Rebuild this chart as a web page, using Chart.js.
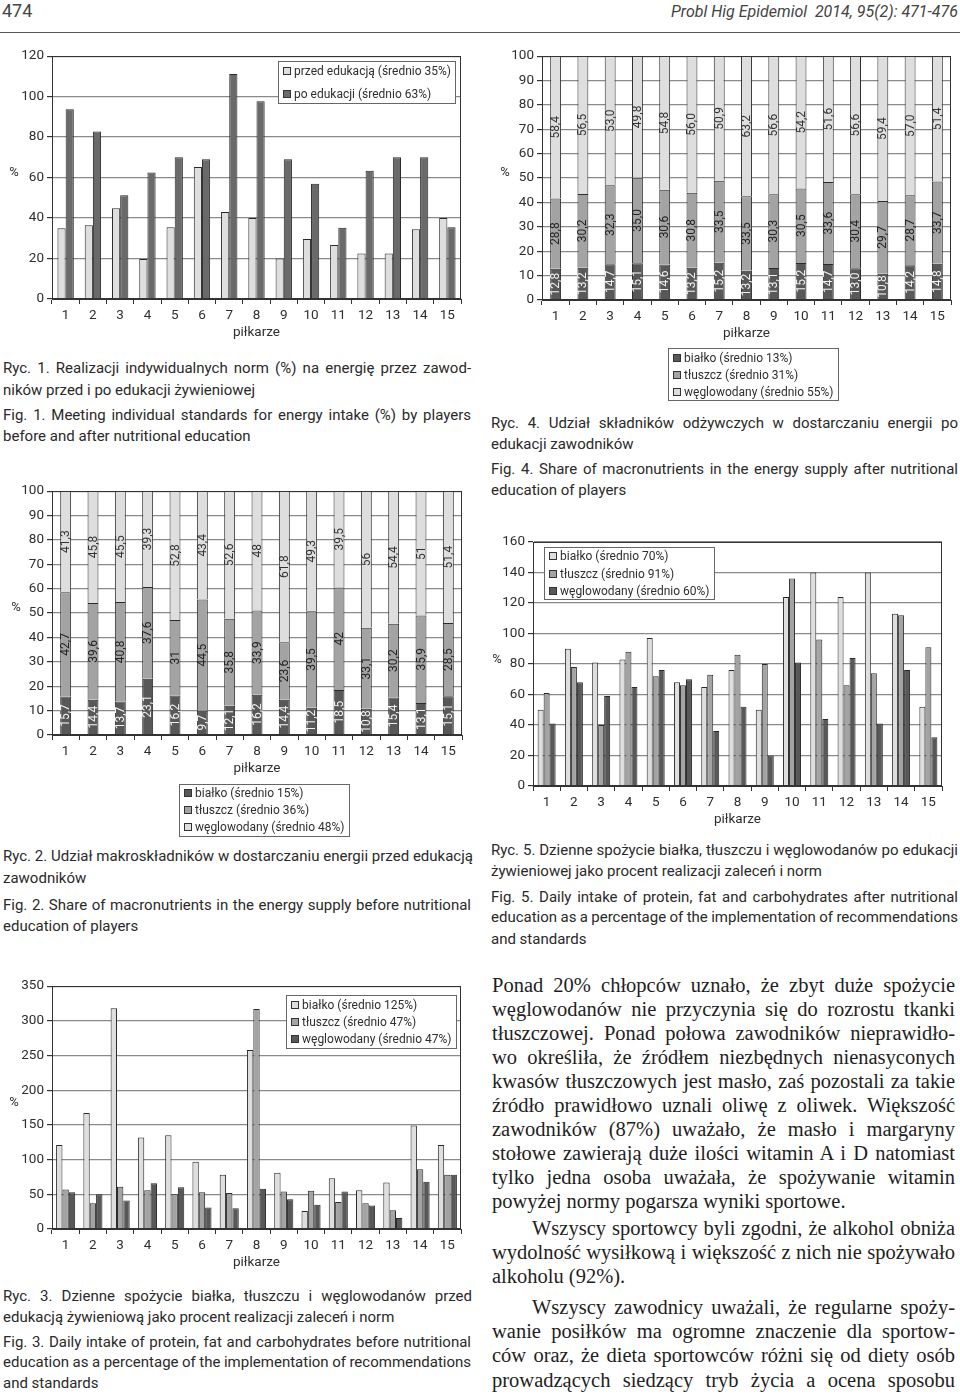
<!DOCTYPE html>
<html><head><meta charset="utf-8">
<script src="https://cdn.jsdelivr.net/npm/chart.js@4.4.1/dist/chart.umd.min.js"></script>
<style>
html,body{margin:0;padding:0;background:#fff;}
body{width:960px;height:1396px;position:relative;overflow:hidden;color:#333;font-family:Roboto,sans-serif;}
.ln{position:absolute;white-space:nowrap;}
.cap{font-family:Roboto,sans-serif;font-size:15px;line-height:20px;color:#2a2a2a;}
.bt{font-family:'Liberation Serif',serif;font-size:20.5px;line-height:24px;color:#1e1e1e;}
canvas{position:absolute;}
</style></head>
<body>
<div class="ln" style="left:2px;top:0px;font-size:18px;line-height:22px;color:#444">474</div>
<div class="ln" style="right:2px;top:1px;font-size:16px;line-height:22px;font-style:italic;color:#444">Probl Hig Epidemiol&nbsp; 2014, 95(2): 471-476</div>
<div style="position:absolute;left:0;top:32px;width:960px;height:1px;background:#555"></div>

<!-- captions left column -->
<div class="ln cap j" data-w="468" style="left:3px;top:358px">Ryc. 1. Realizacji indywidualnych norm (%) na energię przez zawod-</div>
<div class="ln cap" style="left:3px;top:380px">ników przed i po edukacji żywieniowej</div>
<div class="ln cap j" data-w="468" style="left:3px;top:405px">Fig. 1. Meeting individual standards for energy intake (%) by players</div>
<div class="ln cap" style="left:3px;top:426px">before and after nutritional education</div>

<div class="ln cap j" data-w="470" style="left:3px;top:846px">Ryc. 2. Udział makroskładników w dostarczaniu energii przed edukacją</div>
<div class="ln cap" style="left:3px;top:868px">zawodników</div>
<div class="ln cap j" data-w="468" style="left:3px;top:895px">Fig. 2. Share of macronutrients in the energy supply before nutritional</div>
<div class="ln cap" style="left:3px;top:916px">education of players</div>

<div class="ln cap j" data-w="469" style="left:3px;top:1286px">Ryc. 3. Dzienne spożycie białka, tłuszczu i węglowodanów przed</div>
<div class="ln cap" style="left:3px;top:1307px">edukacją żywieniową jako procent realizacji zaleceń i norm</div>
<div class="ln cap j" data-w="468" style="left:3px;top:1332px">Fig. 3. Daily intake of protein, fat and carbohydrates before nutritional</div>
<div class="ln cap j" data-w="468" style="left:3px;top:1352px">education as a percentage of the implementation of recommendations</div>
<div class="ln cap" style="left:3px;top:1373px">and standards</div>

<!-- captions right column -->
<div class="ln cap j" data-w="467" style="left:491px;top:413px">Ryc. 4. Udział składników odżywczych w dostarczaniu energii po</div>
<div class="ln cap" style="left:491px;top:434px">edukacji zawodników</div>
<div class="ln cap j" data-w="467" style="left:491px;top:459px">Fig. 4. Share of macronutrients in the energy supply after nutritional</div>
<div class="ln cap" style="left:491px;top:480px">education of players</div>

<div class="ln cap j" data-w="467" style="left:491px;top:840px">Ryc. 5. Dzienne spożycie białka, tłuszczu i węglowodanów po edukacji</div>
<div class="ln cap" style="left:491px;top:861px">żywieniowej jako procent realizacji zaleceń i norm</div>
<div class="ln cap j" data-w="467" style="left:491px;top:887px">Fig. 5. Daily intake of protein, fat and carbohydrates after nutritional</div>
<div class="ln cap j" data-w="467" style="left:491px;top:907px">education as a percentage of the implementation of recommendations</div>
<div class="ln cap" style="left:491px;top:929px">and standards</div>

<!-- body text -->
<div class="ln bt j" data-w="463" style="left:492px;top:973px">Ponad 20% chłopców uznało, że zbyt duże spożycie</div>
<div class="ln bt j" data-w="463" style="left:492px;top:997px">węglowodanów nie przyczynia się do rozrostu tkanki</div>
<div class="ln bt j" data-w="463" style="left:492px;top:1021px">tłuszczowej. Ponad połowa zawodników nieprawidło-</div>
<div class="ln bt j" data-w="463" style="left:492px;top:1045px">wo określiła, że źródłem niezbędnych nienasyconych</div>
<div class="ln bt j" data-w="463" style="left:492px;top:1069px">kwasów tłuszczowych jest masło, zaś pozostali za takie</div>
<div class="ln bt j" data-w="463" style="left:492px;top:1093px">źródło prawidłowo uznali oliwę z oliwek. Większość</div>
<div class="ln bt j" data-w="463" style="left:492px;top:1117px">zawodników (87%) uważało, że masło i margaryny</div>
<div class="ln bt j" data-w="463" style="left:492px;top:1141px">stołowe zawierają duże ilości witamin A i D natomiast</div>
<div class="ln bt j" data-w="463" style="left:492px;top:1165px">tylko jedna osoba uważała, że spożywanie witamin</div>
<div class="ln bt" style="left:492px;top:1189px">powyżej normy pogarsza wyniki sportowe.</div>
<div class="ln bt j" data-w="423" style="left:532px;top:1216px">Wszyscy sportowcy byli zgodni, że alkohol obniża</div>
<div class="ln bt j" data-w="463" style="left:492px;top:1240px">wydolność wysiłkową i większość z nich nie spożywało</div>
<div class="ln bt" style="left:492px;top:1264px">alkoholu (92%).</div>
<div class="ln bt j" data-w="423" style="left:532px;top:1295px">Wszyscy zawodnicy uważali, że regularne spoży-</div>
<div class="ln bt j" data-w="463" style="left:492px;top:1319px">wanie posiłków ma ogromne znaczenie dla sportow-</div>
<div class="ln bt j" data-w="463" style="left:492px;top:1343px">ców oraz, że dieta sportowców różni się od diety osób</div>
<div class="ln bt j" data-w="463" style="left:492px;top:1368px">prowadzących siedzący tryb życia a ocena sposobu</div>

<script>
// ---------------- DATA ----------------
const players = ['1','2','3','4','5','6','7','8','9','10','11','12','13','14','15'];

const fig1Before = [35, 36.4, 44.8, 19.7, 35.4, 65.2, 43, 40, 20, 29.7, 26.7, 22.5, 22.5, 34.4, 40];
const fig1After  = [93.8, 82.8, 51.3, 62.5, 70, 69, 111.1, 97.7, 69, 56.9, 35.2, 63.3, 70, 70, 35.4];
const fig1Names  = ['przed edukacją (średnio 35%)', 'po edukacji (średnio 63%)'];

const fig2Protein = [15.7, 14.4, 13.7, 23.1, 16.2, 9.7, 12.1, 16.2, 14.4, 11.2, 18.5, 10.8, 15.4, 13.1, 15.1];
const fig2Fat     = [42.7, 39.6, 40.8, 37.6, 31, 44.5, 35.8, 33.9, 23.6, 39.5, 42, 33.1, 30.2, 35.9, 28.5];
const fig2Carb    = [41.3, 45.8, 45.5, 39.3, 52.8, 43.4, 52.6, 48, 61.8, 49.3, 39.5, 56, 54.4, 51, 51.4];
const fig2Names   = ['białko (średnio 15%)', 'tłuszcz (średnio 36%)', 'węglowodany (średnio 48%)'];

const fig3Protein = [121, 167, 318, 132, 135, 97, 78, 258, 81, 26, 73, 56, 67, 149, 121];
const fig3Fat     = [57, 37, 61, 56, 50, 53, 52, 317, 54, 55, 39, 37, 27, 86, 78];
const fig3Carb    = [53, 50, 41, 66, 60, 31, 30, 58, 43, 35, 54, 34, 16, 68, 78];
const fig3Names   = ['białko (średnio 125%)', 'tłuszcz (średnio 47%)', 'węglowodany (średnio 47%)'];

const fig4Protein = [12.8, 13.2, 14.7, 15.1, 14.6, 13.2, 15.2, 13.2, 13.1, 15.2, 14.7, 13.0, 10.8, 14.2, 14.8];
const fig4Fat     = [28.8, 30.2, 32.3, 35.0, 30.6, 30.8, 33.5, 33.5, 30.3, 30.5, 33.6, 30.4, 29.7, 28.7, 33.7];
const fig4Carb    = [58.4, 56.5, 53.0, 49.8, 54.8, 56.0, 50.9, 63.2, 56.6, 54.2, 51.6, 56.6, 59.4, 57.0, 51.4];
const fig4Names   = ['białko (średnio 13%)', 'tłuszcz (średnio 31%)', 'węglowodany (średnio 55%)'];

const fig5Protein = [50, 90, 81, 83, 97, 68, 65, 76, 50, 124, 140, 124, 140, 113, 52];
const fig5Fat     = [61, 78, 40, 88, 72, 66, 73, 86, 80, 136, 96, 66, 74, 112, 91];
const fig5Carb    = [41, 68, 59, 65, 76, 70, 36, 52, 20, 81, 44, 84, 41, 76, 32];
const fig5Names   = ['białko (średnio 70%)', 'tłuszcz (średnio 91%)', 'węglowodany (średnio 60%)'];

const axisTitle = 'piłkarze';
const yUnit = '%';

// ---------------- STYLE ----------------
const GRID = '#8a8a8a', AXIS = '#333', TXT = '#2e2e2e';
const LIGHT = '#dedede', MID = '#a3a3a3', DARK = '#585858', DARK1 = '#6a6a6a';
const FONT = 'Roboto, sans-serif';

// ---------------- TEXT FITTING (justified lines) ----------------
function fitLines() {
  document.querySelectorAll('.j').forEach(el => {
    const w = parseFloat(el.dataset.w);
    el.style.wordSpacing = '0px';
    const r = document.createRange(); r.selectNodeContents(el);
    const nat = r.getBoundingClientRect().width;
    const n = (el.textContent.match(/ /g) || []).length;
    if (n) el.style.wordSpacing = ((w - nat) / n).toFixed(2) + 'px';
  });
}
fitLines();
if (document.fonts && document.fonts.ready) document.fonts.ready.then(fitLines);

// ---------------- PLUGINS ----------------
function boxPlugin() {
  return { id: 'plotBox', afterDraw(c) {
    const a = c.chartArea, x = c.ctx;
    x.save(); x.strokeStyle = AXIS; x.lineWidth = 1;
    x.strokeRect(Math.round(a.left) + 0.5, Math.round(a.top) + 0.5, Math.round(a.right - a.left) - 1, Math.round(a.bottom - a.top) - 1);
    x.restore();
  }};
}
function pctPlugin(px, py) {
  return { id: 'pct', afterDraw(c) {
    const x = c.ctx; x.save(); x.fillStyle = TXT; x.font = '13px ' + FONT;
    x.textAlign = 'center'; x.textBaseline = 'middle'; x.fillText(yUnit, px, py); x.restore();
  }};
}
function legendPlugin(L) {
  return { id: 'boxLegend', afterDraw(c) {
    const ctx = c.ctx; ctx.save();
    ctx.fillStyle = '#fff'; ctx.fillRect(L.x, L.y, L.w, L.h);
    ctx.strokeStyle = '#666'; ctx.lineWidth = 1; ctx.strokeRect(L.x + 0.5, L.y + 0.5, L.w, L.h);
    let fs = L.font;
    const labels = c.data.datasets.map(d => d.label);
    const widest = () => { ctx.font = fs + 'px ' + FONT; return Math.max(...labels.map(t => ctx.measureText(t).width)); };
    while (widest() > L.w - 19 && fs > 8) fs -= 0.25;
    c.data.datasets.forEach((d, i) => {
      const cy = Math.round(L.y + L.first + i * L.rowH);
      ctx.fillStyle = d.backgroundColor; ctx.fillRect(L.x + 5, cy - 4, 8, 8);
      ctx.strokeStyle = '#333'; ctx.strokeRect(L.x + 5.5, cy - 3.5, 7, 7);
      ctx.fillStyle = TXT; ctx.font = fs + 'px ' + FONT; ctx.textBaseline = 'middle';
      ctx.fillText(d.label, L.x + 16, cy + 0.5);
    });
    ctx.restore();
  }};
}
function segLabelPlugin(texts, colors) {
  return { id: 'segLabels', afterDatasetsDraw(c) {
    const ctx = c.ctx; ctx.save();
    ctx.font = '12px ' + FONT; ctx.textAlign = 'center'; ctx.textBaseline = 'middle';
    c.data.datasets.forEach((ds, di) => {
      c.getDatasetMeta(di).data.forEach((el, i) => {
        const p = el.getProps(['x', 'y', 'base'], true);
        ctx.save(); ctx.translate(p.x, (p.y + p.base) / 2); ctx.rotate(-Math.PI / 2);
        ctx.fillStyle = colors[di]; ctx.fillText(texts[di][i], 0, 0.5); ctx.restore();
      });
    });
    ctx.restore();
  }};
}

// ---------------- BUILDER ----------------
function build(o) {
  const cv = document.createElement('canvas');
  cv.width = o.w; cv.height = o.h;
  cv.style.left = o.x + 'px'; cv.style.top = o.y + 'px';
  cv.style.width = o.w + 'px'; cv.style.height = o.h + 'px';
  document.body.appendChild(cv);
  const yW = o.pl - o.x, pt = o.pt - o.y, pr = o.x + o.w - o.pr;
  const pb = o.y + o.h - o.pb - o.xH;
  const plugins = [boxPlugin(), pctPlugin(o.pct[0], o.pct[1]), legendPlugin(o.legend)];
  if (o.seg) plugins.push(segLabelPlugin(o.seg.texts, o.seg.colors));
  new Chart(cv, {
    type: 'bar',
    data: { labels: players, datasets: o.datasets },
    options: {
      responsive: false, animation: false, devicePixelRatio: 1,
      layout: { padding: { left: 0, top: pt, right: pr, bottom: pb } },
      plugins: { legend: { display: false }, tooltip: { enabled: false } },
      datasets: { bar: { categoryPercentage: o.cat, barPercentage: o.barP, borderWidth: 1, borderColor: '#2a2a2a' } },
      scales: {
        x: {
          stacked: !!o.stacked,
          grid: { drawOnChartArea: false, drawTicks: true, tickLength: 5, color: AXIS, offset: true },
          border: { color: AXIS, width: 1 },
          ticks: { color: TXT, font: { family: FONT, size: 13.5 }, padding: 4, maxRotation: 0, autoSkip: false },
          title: { display: true, text: axisTitle, color: TXT, font: { family: FONT, size: 13.5 }, padding: { top: 0, bottom: 4 } },
          afterFit(s) { s.height = o.xH; }
        },
        y: {
          stacked: !!o.stacked, min: 0, max: o.yMax,
          ticks: { stepSize: o.yStep, color: TXT, font: { family: FONT, size: 13.5 }, padding: 3 },
          grid: { color: GRID, lineWidth: 1.2, tickLength: 5, tickColor: AXIS },
          border: { color: AXIS, width: 1 },
          afterFit(s) { s.width = yW; }
        }
      }
    },
    plugins
  });
}

function shares(a, b, c) {
  const tot = a.map((v, i) => v + b[i] + c[i]);
  return [a.map((v, i) => v / tot[i] * 100), b.map((v, i) => v / tot[i] * 100), c.map((v, i) => v / tot[i] * 100)];
}
const comma = v => String(v).replace('.', ',');
const comma1 = v => v.toFixed(1).replace('.', ',');

// Fig 1
build({ x: 0, y: 45, w: 470, h: 300, pl: 52, pt: 55, pr: 461, pb: 299, xH: 46,
  yMax: 120, yStep: 20, cat: 0.6, barP: 1, pct: [14, 128],
  legend: { x: 278, y: 16, w: 177, h: 42, first: 10, rowH: 22.6, font: 12.5 },
  datasets: [
    { label: fig1Names[0], data: fig1Before, backgroundColor: LIGHT },
    { label: fig1Names[1], data: fig1After, backgroundColor: DARK1 }
  ] });

// Fig 2
const s2 = shares(fig2Protein, fig2Fat, fig2Carb);
build({ x: 0, y: 480, w: 470, h: 360, pl: 52, pt: 491, pr: 462, pb: 735, xH: 46,
  yMax: 100, yStep: 10, cat: 1, barP: 0.4, stacked: true, pct: [16, 128],
  legend: { x: 179, y: 304, w: 170, h: 52, first: 8.5, rowH: 17.3, font: 13 },
  seg: { texts: [fig2Protein.map(comma), fig2Fat.map(comma), fig2Carb.map(comma)], colors: ['#f2f2f2', '#222', '#333'] },
  datasets: [
    { label: fig2Names[0], data: s2[0], backgroundColor: DARK },
    { label: fig2Names[1], data: s2[1], backgroundColor: MID },
    { label: fig2Names[2], data: s2[2], backgroundColor: LIGHT }
  ] });

// Fig 3
build({ x: 0, y: 975, w: 470, h: 300, pl: 52, pt: 985, pr: 461, pb: 1229, xH: 46,
  yMax: 350, yStep: 50, cat: 0.7, barP: 1, pct: [14, 128],
  legend: { x: 286, y: 20, w: 170, h: 53, first: 9.5, rowH: 17.3, font: 12.5 },
  datasets: [
    { label: fig3Names[0], data: fig3Protein, backgroundColor: LIGHT },
    { label: fig3Names[1], data: fig3Fat, backgroundColor: MID },
    { label: fig3Names[2], data: fig3Carb, backgroundColor: DARK }
  ] });

// Fig 4
const s4 = shares(fig4Protein, fig4Fat, fig4Carb);
build({ x: 490, y: 45, w: 470, h: 360, pl: 542, pt: 56, pr: 951, pb: 300, xH: 46,
  yMax: 100, yStep: 10, cat: 1, barP: 0.4, stacked: true, pct: [15, 128],
  legend: { x: 178, y: 303, w: 170, h: 52, first: 10, rowH: 16.8, font: 13 },
  seg: { texts: [fig4Protein.map(comma1), fig4Fat.map(comma1), fig4Carb.map(comma1)], colors: ['#f2f2f2', '#222', '#333'] },
  datasets: [
    { label: fig4Names[0], data: s4[0], backgroundColor: DARK },
    { label: fig4Names[1], data: s4[1], backgroundColor: MID },
    { label: fig4Names[2], data: s4[2], backgroundColor: LIGHT }
  ] });

// Fig 5
build({ x: 490, y: 530, w: 470, h: 302, pl: 533, pt: 542, pr: 942, pb: 786, xH: 46,
  yMax: 160, yStep: 20, cat: 0.66, barP: 1, pct: [7, 130],
  legend: { x: 54, y: 17, w: 170, h: 52, first: 9, rowH: 17.5, font: 12.5 },
  datasets: [
    { label: fig5Names[0], data: fig5Protein, backgroundColor: LIGHT },
    { label: fig5Names[1], data: fig5Fat, backgroundColor: MID },
    { label: fig5Names[2], data: fig5Carb, backgroundColor: DARK }
  ] });
</script>
</body></html>
